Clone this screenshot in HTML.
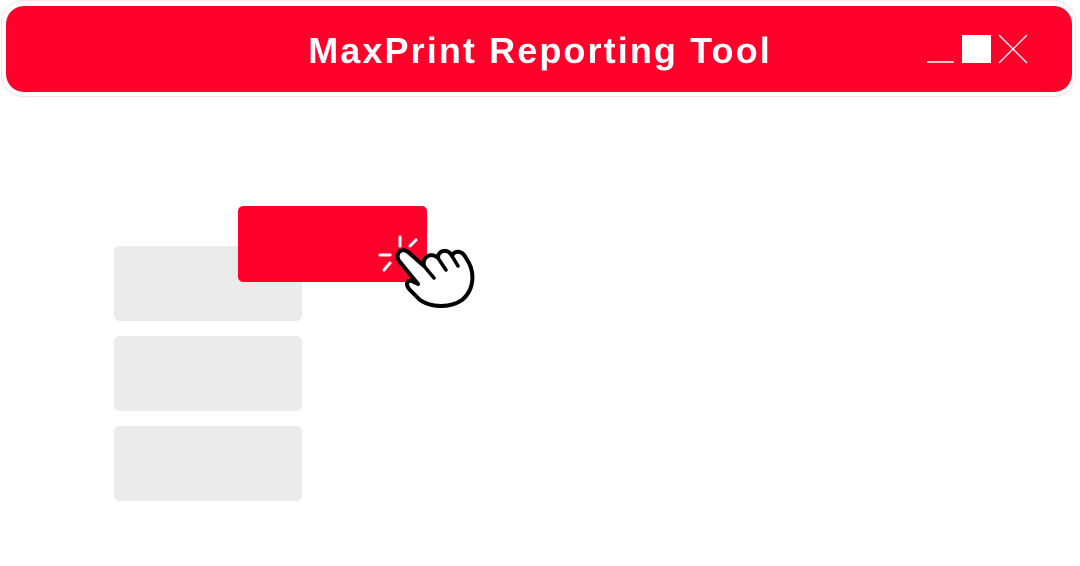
<!DOCTYPE html>
<html><head><style>
body{margin:0;width:1080px;height:566px;background:#fff;position:relative;overflow:hidden;font-family:"Liberation Sans",sans-serif}
.outer{position:absolute;left:1px;top:0;width:1075px;height:97px;border:1px solid #fde0e6;border-radius:22px;box-sizing:border-box}
.bar{position:absolute;left:6px;top:6px;width:1066px;height:86px;background:#ff002b;border-radius:18px}
.title{position:absolute;left:0;width:1080px;top:30px;text-align:center;color:#fff;font-weight:bold;font-size:36px;letter-spacing:2.1px}
.g{position:absolute;left:114px;width:188px;height:75px;background:#ebebeb;border-radius:6px}
.red{position:absolute;left:238px;top:206px;width:189px;height:76px;background:#ff002b;border-radius:5px}
</style></head><body>
<div class="outer"></div>
<div class="bar"></div>
<div class="title">MaxPrint Reporting Tool</div>
<svg style="position:absolute;left:0;top:0" width="1080" height="566">
<line x1="927" y1="62" x2="954" y2="62" stroke="#fff" stroke-width="1.5"/>
<rect x="962" y="35" width="29" height="28" fill="#fff"/>
<line x1="999" y1="35" x2="1027" y2="63" stroke="#fff" stroke-width="1.3"/>
<line x1="1027" y1="35" x2="999" y2="63" stroke="#fff" stroke-width="1.3"/>
</svg>
<div class="g" style="top:246px"></div>
<div class="g" style="top:336px"></div>
<div class="g" style="top:426px"></div>
<div class="red"></div>
<svg style="position:absolute;left:0;top:0" width="1080" height="566">
<g stroke="#fff" stroke-width="3" stroke-linecap="round">
<line x1="400" y1="237" x2="400" y2="246"/>
<line x1="416" y1="240" x2="410" y2="246"/>
<line x1="380" y1="255" x2="390" y2="255"/>
<line x1="384" y1="270" x2="390" y2="263"/>
</g>
<path d="M400,262 C394,256 400,246 408,252 L424,266 C422,256 432,252 438,258 C438,250 448,248 452,256 C454,250 462,250 466,258 C476,272 474,290 462,300 C450,308 432,308 420,300 L410,290 C404,284 408,278 414,282 L418,284 Z" fill="#fff" stroke="#000" stroke-width="4" stroke-linejoin="round"/>
<g stroke="#000" stroke-width="3.5" stroke-linecap="round">
<line x1="424" y1="266" x2="434" y2="278"/>
<line x1="438" y1="258" x2="446" y2="270"/>
<line x1="452" y1="256" x2="458" y2="266"/>
</g>
</svg>
</body></html>
